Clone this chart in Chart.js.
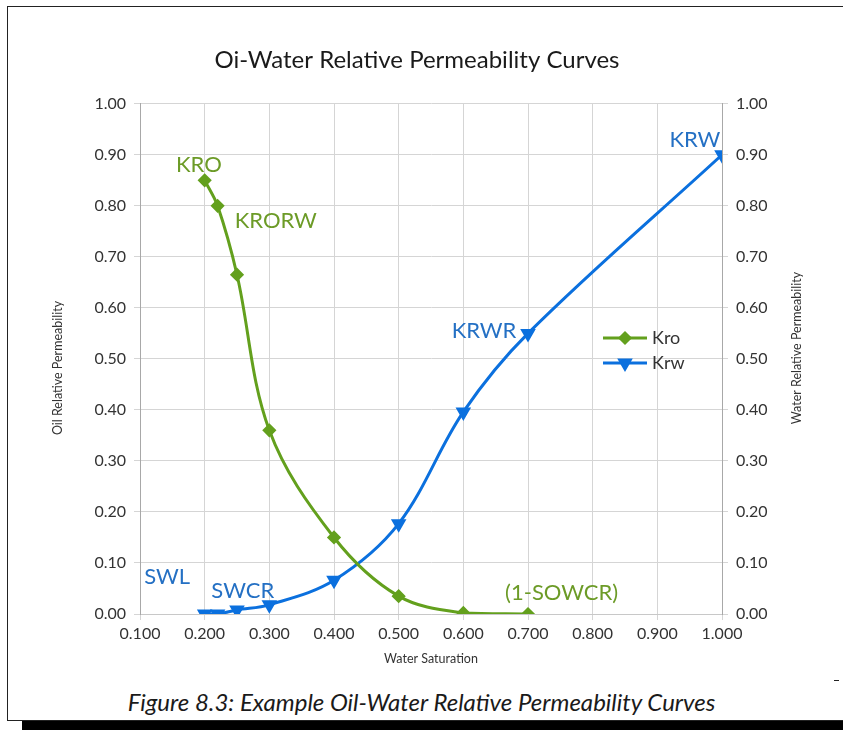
<!DOCTYPE html>
<html>
<head>
<meta charset="utf-8">
<script src="https://cdn.jsdelivr.net/npm/chart.js@4.4.1/dist/chart.umd.min.js"></script>
<style>
  html, body { margin: 0; padding: 0; background: #fff; overflow: hidden; }
  body { width: 843px; height: 730px; position: relative; font-family: Lato, sans-serif; }
  .trait { position: absolute; background: #222; }
  #haut { left: 7px; top: 6px; width: 836px; height: 1px; }
  #gauche { left: 7px; top: 6px; width: 1px; height: 715px; }
  #bas { left: 7px; top: 720px; width: 836px; height: 1px; }
  #ombre { position: absolute; left: 22px; top: 721px; width: 821px; height: 9px; background: #000; }
  #zone { position: absolute; left: 0; top: 0; width: 843px; height: 680px; }
  #zone canvas { display: block; }
  #legende { position: absolute; left: 0; width: 843px; top: 687px; text-align: center; font-style: italic; font-size: 24px; color: #1a1a1a; }
  #tiret { left: 834px; top: 680px; width: 5px; height: 1px; }
</style>
</head>
<body>
<div class="trait" id="haut"></div>
<div class="trait" id="gauche"></div>
<div class="trait" id="bas"></div>
<div id="zone"><canvas id="graphPerm" width="843" height="680"></canvas></div>
<div class="trait" id="tiret"></div>
<div id="legende">Figure 8.3: Example Oil-Water Relative Permeability Curves</div>
<div id="ombre"></div>
<script>
// Courbes de perméabilité relative eau / huile
const titreGraph = 'Oi-Water Relative Permeability Curves';
const titresAxes = ['Water Saturation', 'Oil Relative Permeability', 'Water Relative Permeability'];
const nomsSeries = ['Kro', 'Krw'];

const satHuile = [0.2, 0.22, 0.25, 0.3, 0.4, 0.5, 0.6, 0.7];
const kro = [0.85, 0.80, 0.665, 0.36, 0.15, 0.035, 0.002, 0];

const satEau = [0.2, 0.22, 0.25, 0.3, 0.4, 0.5, 0.6, 0.7, 1.0];
const krw = [0, 0, 0.008, 0.018, 0.066, 0.177, 0.396, 0.55, 0.9];

const bornesX = [0.1, 1.0];
const bornesY = [0, 1.0];

const couleurs = ['#63a01d', '#0b70de'];
const couleursTexte = ['#6c9b27', '#2470c4'];

// étiquettes posées sur le graphique (en coordonnées de données)
const reperes = [
    { texte: 'KRO', x: 0.191, y: 0.880, serie: 0 },
    { texte: 'KRORW', x: 0.310, y: 0.771, serie: 0 },
    { texte: '(1-SOWCR)', x: 0.752, y: 0.041, serie: 0 },
    { texte: 'SWL', x: 0.142, y: 0.073, serie: 1 },
    { texte: 'SWCR', x: 0.259, y: 0.045, serie: 1 },
    { texte: 'KRWR', x: 0.632, y: 0.555, serie: 1 },
    { texte: 'KRW', x: 0.958, y: 0.929, serie: 1 }
];

const police = 'Lato';
const gris = '#d5d5d5';

function points(xs, ys) {
    return xs.map((x, i) => ({ x: x, y: ys[i] }));
}

const habillage = {
    id: 'habillage',
    afterDraw(chart) {
        const ctx = chart.ctx;
        const sx = chart.scales.x;
        const sy = chart.scales.yHuile;
        ctx.save();

        // repères
        ctx.font = '22px ' + police;
        ctx.textAlign = 'center';
        ctx.textBaseline = 'middle';
        reperes.forEach(r => {
            ctx.fillStyle = couleursTexte[r.serie];
            ctx.fillText(r.texte, sx.getPixelForValue(r.x), sy.getPixelForValue(r.y));
        });

        // légende
        chart.data.datasets.forEach((ds, i) => {
            const y = 338 + i * 25;
            ctx.strokeStyle = ds.borderColor;
            ctx.lineWidth = 3;
            ctx.beginPath();
            ctx.moveTo(603, y);
            ctx.lineTo(647, y);
            ctx.stroke();
            ctx.fillStyle = ds.borderColor;
            Chart.helpers.drawPoint(ctx, {
                pointStyle: ds.pointStyle,
                radius: ds.pointRadius,
                rotation: ds.pointRotation || 0,
                borderWidth: 1
            }, 625, y);
            ctx.fillStyle = '#333';
            ctx.font = '18px ' + police;
            ctx.textAlign = 'left';
            ctx.fillText(ds.label, 652, y);
        });

        // titres des axes verticaux
        ctx.fillStyle = '#333';
        ctx.font = '12.5px ' + police;
        ctx.textAlign = 'center';
        ctx.save();
        ctx.translate(58, 368);
        ctx.rotate(-Math.PI / 2);
        ctx.fillText(titresAxes[1], 0, 0);
        ctx.restore();
        ctx.save();
        ctx.translate(797, 348);
        ctx.rotate(-Math.PI / 2);
        ctx.fillText(titresAxes[2], 0, 0);
        ctx.restore();

        ctx.restore();
    }
};

const axeY = (position) => ({
    type: 'linear',
    position: position,
    min: bornesY[0],
    max: bornesY[1],
    border: { color: '#a8a8a8' },
    grid: {
        color: gris,
        tickLength: 6,
        drawOnChartArea: position === 'left'
    },
    ticks: {
        stepSize: 0.1,
        padding: 8,
        color: '#333',
        font: { family: police, size: 16 },
        callback: v => v.toFixed(2)
    },
    afterFit: s => { s.width = position === 'left' ? 140 : 112; }
});

new Chart(document.getElementById('graphPerm').getContext('2d'), {
    type: 'line',
    data: {
        datasets: [{
            label: nomsSeries[0],
            data: points(satHuile, kro),
            yAxisID: 'yHuile',
            borderColor: couleurs[0],
            backgroundColor: couleurs[0],
            borderWidth: 3,
            pointStyle: 'rectRot',
            pointRadius: 5,
            tension: 0.35,
            fill: false
        }, {
            label: nomsSeries[1],
            data: points(satEau, krw),
            yAxisID: 'yEau',
            borderColor: couleurs[1],
            backgroundColor: couleurs[1],
            borderWidth: 3,
            pointStyle: 'triangle',
            pointRotation: 180,
            pointRadius: 6,
            tension: 0.35,
            fill: false
        }]
    },
    options: {
        responsive: false,
        animation: false,
        layout: { padding: { left: 0, right: 9, top: 0, bottom: 0 } },
        plugins: {
            legend: { display: false },
            tooltip: { enabled: false },
            title: {
                display: true,
                text: titreGraph,
                color: '#1a1a1a',
                font: { family: police, size: 24, weight: 'normal', lineHeight: 1.2 },
                padding: { top: 46, bottom: 29 }
            }
        },
        scales: {
            x: {
                type: 'linear',
                min: bornesX[0],
                max: bornesX[1],
                border: { color: '#c8c8c8' },
                grid: { color: gris, tickLength: 6 },
                ticks: {
                    stepSize: 0.1,
                    padding: 4,
                    color: '#333',
                    maxRotation: 0,
                    font: { family: police, size: 16 },
                    callback: v => v.toFixed(3)
                },
                title: {
                    display: true,
                    text: titresAxes[0],
                    color: '#333',
                    font: { family: police, size: 12.5 },
                    padding: { top: 0, bottom: 14 }
                },
                afterFit: s => { s.height = 66; }
            },
            yHuile: axeY('left'),
            yEau: axeY('right')
        }
    },
    plugins: [habillage]
});
</script>
</body>
</html>
